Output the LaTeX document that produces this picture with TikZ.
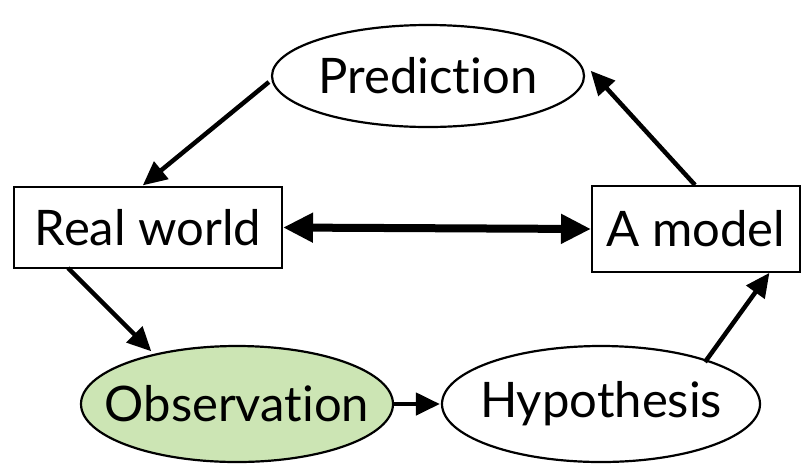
\documentclass[tikz,border=0pt]{standalone}
\usepackage{fontspec}
\setmainfont{Lato}[Ligatures={NoCommon}]
\usetikzlibrary{arrows.meta,shapes.geometric}
\definecolor{obsgreen}{RGB}{204,229,180}
\tikzset{
  ell/.style={ellipse, draw=black, line width=2.2pt, minimum width=#1, minimum height=104pt, inner sep=0pt},
  ell/.default=312pt,
  boxnode/.style={rectangle, draw=black, line width=2pt, inner sep=0pt},
  lbl/.style={font=\fontsize{49}{58}\selectfont},
  arr/.style={line width=4.5pt, -{Triangle[length=24pt,width=22pt]}, shorten >=1pt},
}
\begin{document}
\begin{tikzpicture}[x=1pt,y=-1pt]
\useasboundingbox (0,0) rectangle (810,467);
\node[ell=312pt, minimum height=102pt] (pred) at (428,76) {};
\node[lbl] at (pred.center) {Prediction};
\node[boxnode, minimum width=268pt, minimum height=81pt] (rw) at (148,227.5) {};
\node[lbl] at (rw.center) {Real world};
\node[boxnode, minimum width=208pt, minimum height=86pt] (am) at (696,229) {};
\node[lbl] at (am.center) {A model};
\node[ell=312pt, minimum height=116pt, fill=obsgreen] (obs) at (237,404) {};
\node[lbl] at (obs.center) {Observation};
\node[ell=318pt, minimum height=116pt] (hyp) at (601,404) {};
\node[lbl] at (hyp.center) {Hypothesis};
\draw[arr] (pred.west) ++(-2,6) coordinate (p1) -- (142,186) coordinate (p2);
\draw[arr] (68,268) -- (152,352);
\draw[arr] (obs.east) -- (hyp.west);
\draw[arr] (705,362) -- (770,272);
\draw[arr] (695,185) -- (590,70);
\draw[line width=8pt, {Triangle[length=30pt,width=28pt]}-{Triangle[length=30pt,width=28pt]}] (rw.east) -- (am.west);
\end{tikzpicture}
\end{document}
